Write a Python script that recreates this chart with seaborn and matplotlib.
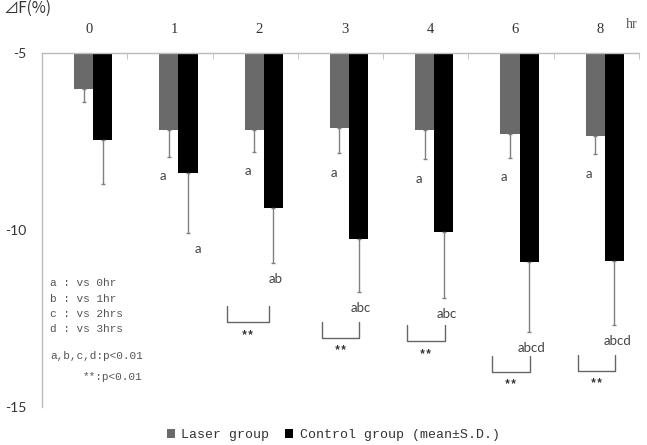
import numpy as np
import pandas as pd
import seaborn as sns
import matplotlib.pyplot as plt

# data
time_labels = ['0', '1', '2', '3', '4', '6', '8']
groups = ['Laser group', 'Control group']
laser_mean = [-6.04, -7.18, -7.18, -7.14, -7.18, -7.30, -7.34]
laser_sd = [0.35, 0.75, 0.62, 0.70, 0.82, 0.67, 0.52]
control_mean = [-7.46, -8.39, -9.39, -10.26, -10.07, -10.89, -10.86]
control_sd = [1.24, 1.69, 1.55, 1.50, 1.84, 1.99, 1.83]
laser_marks = ['', 'a', 'a', 'a', 'a', 'a', 'a']
control_marks = ['', 'a', 'ab', 'abc', 'abc', 'abcd', 'abcd']
sig_marks = ['', '', '**', '**', '**', '**', '**']
notes = ['a : vs 0hr', 'b : vs 1hr', 'c : vs 2hrs', 'd : vs 3hrs']

df = pd.DataFrame({
    'time': time_labels * 2,
    'group': [groups[0]] * 7 + [groups[1]] * 7,
    'value': laser_mean + control_mean,
})

sns.set_style('white')
plt.rcParams['font.family'] = ['DejaVu Sans']

fig = plt.figure(figsize=(6.47, 4.45), dpi=100)
ax = fig.add_axes([0.0649, 0.0843, 0.9227, 0.7977])

sns.barplot(data=df, x='time', y='value', hue='group', order=time_labels,
            hue_order=groups, palette=['#6a6a6a', '#000000'], width=0.45,
            errorbar=None, saturation=1, linewidth=0, ax=ax)

ax.set_xlim(-0.6, 6.4)
ax.set_ylim(-15, -5)

# one-sided (downward) error bars and letter marks
sds = [laser_sd, control_sd]
means = [laser_mean, control_mean]
marks = [laser_marks, control_marks]
offs = [0.55, 0.45]
for k, cont in enumerate(ax.containers[:2]):
    xs = np.array([b.get_x() + b.get_width() / 2 for b in cont])
    m = np.array(means[k])
    s = np.array(sds[k])
    ax.errorbar(xs, m, yerr=[s, np.zeros_like(s)], fmt='none', ecolor='#808080',
                elinewidth=1, capsize=1.5, capthick=1)
    for i, (x, yv, sv, t) in enumerate(zip(xs, m, s, marks[k])):
        if t:
            dx = -0.07 if k == 0 else (0.12 if i == 1 else 0.03)
            ax.text(x + dx, yv - sv - offs[k], t, ha='center', va='center',
                    fontsize=9.5, color='#444444', family='Lato')

# significance brackets
bracket_top = [None, None, -12.15, -12.58, -12.69, -13.54, -13.52]
bracket_x = [None, None, (-0.43, 0.06), (-0.32, 0.12), (-0.32, 0.12),
             (-0.32, 0.12), (-0.32, 0.12)]
for i, s in enumerate(sig_marks):
    if not s:
        continue
    x0, x1 = i + bracket_x[i][0], i + bracket_x[i][1]
    y0 = bracket_top[i]
    y1 = y0 - 0.45
    ax.plot([x0, x0, x1, x1], [y0, y1, y1, y0], color='#666666', lw=1)
    ax.text((x0 + x1) / 2, y1 - 0.35, s, ha='center', va='center',
            fontsize=8.5, color='#333333', family='Liberation Mono',
            fontweight='bold')

# axes styling
for side in ['right', 'bottom']:
    ax.spines[side].set_visible(False)
for side in ['top', 'left']:
    ax.spines[side].set_color('#bbbbbb')
    ax.spines[side].set_linewidth(1)

ax.xaxis.tick_top()
ax.set_xticks(np.arange(7) - 0.05, labels=time_labels)
ax.set_xticks(np.arange(7) + 0.4, minor=True)
ax.tick_params(axis='x', which='major', length=0, pad=12, labelsize=10.5,
               labelcolor='#333333')
ax.tick_params(axis='x', which='minor', direction='in', length=4, color='#bbbbbb')
for lab in ax.get_xticklabels():
    lab.set_family('Liberation Serif')

ax.set_yticks([-15, -10, -5], labels=['-15', '-10', '-5'])
ax.tick_params(axis='y', direction='in', length=5, color='#bbbbbb', pad=11,
               labelsize=10, labelcolor='#333333')
for lab in ax.get_yticklabels():
    lab.set_family('Lato')

ax.set_xlabel('')
ax.set_ylabel('')

# legend
h, l = ax.get_legend_handles_labels()
ax.legend(h, ['Laser group', 'Control group (mean±S.D.)'], loc='center',
          bbox_to_anchor=(0.515, 0.022), bbox_transform=fig.transFigure, ncol=2,
          frameon=False, handlelength=0.6, handleheight=0.6, handletextpad=0.5,
          columnspacing=1.2, prop={'family': 'Liberation Mono', 'size': 9.5},
          labelcolor='#333333')

# extra texts
fig.text(0.005, 1 - 8 / 445, '⊿F(%)', ha='left', va='center', fontsize=11,
         color='#333333', family=['Noto Sans CJK JP', 'DejaVu Sans'])
fig.text(632 / 647, 1 - 25 / 445, 'hr', ha='center', va='center', fontsize=10,
         color='#555555', family='Liberation Serif')
for j, t in enumerate(notes):
    fig.text(50 / 647, 1 - (283 + 15.5 * j) / 445, t, ha='left', va='center',
             fontsize=8, color='#555555', family='Liberation Mono')
fig.text(50 / 647, 1 - 356 / 445, 'a,b,c,d:p<0.01', ha='left', va='center',
         fontsize=8, color='#555555', family='Liberation Mono')
fig.text(83 / 647, 1 - 377 / 445, '**:p<0.01', ha='left', va='center',
         fontsize=8, color='#555555', family='Liberation Mono')

fig.savefig('out.png', dpi=100)
plt.close(fig)
